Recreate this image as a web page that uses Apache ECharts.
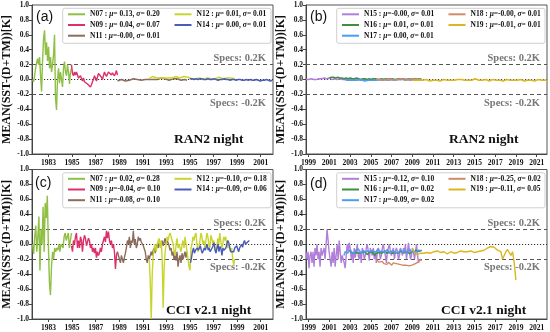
<!DOCTYPE html>
<html><head><meta charset="utf-8">
<script src="https://cdn.jsdelivr.net/npm/echarts@6/dist/echarts.min.js"></script>
<style>html,body{margin:0;padding:0;background:#fff}#c{width:550px;height:332px}</style>
</head><body><div id="c"></div>
<script>
// ================= DATA =================
const ticksAC = [1983,1985,1987,1989,1991,1993,1995,1997,1999,2001];
const ticksBD = [1999,2001,2003,2005,2007,2009,2011,2013,2015,2017,2019,2021];
const rangeAC = [1981.6, 2002.05];
const rangeBD = [1998.75, 2022.0];
const yTicks = [-1.0, 1.0, 0.2]; // min, max, step

const satsAC = ['N07','N09','N11','N12','N14'];
const satsBD = ['N15','N16','N17','N18','N19'];

const muA = ['0.13','0.04','-0.00','0.01','0.00'];
const sdA = ['0.20','0.07','0.01','0.01','0.01'];
const muB = ['-0.00','0.01','0.00','-0.00','-0.01'];
const sdB = ['0.01','0.01','0.01','0.01','0.01'];
const muC = ['0.02','-0.04','-0.08','-0.10','-0.09'];
const sdC = ['0.28','0.10','0.10','0.18','0.06'];
const muD = ['-0.12','-0.11','-0.09','-0.25','-0.11'];
const sdD = ['0.10','0.02','0.02','0.02','0.05'];

// record spans [start, end] in decimal years
const spanA = [[1981.65,1984.95],[1984.95,1988.85],[1988.85,1994.75],[1991.5,1998.8],[1995.0,2002.0]];
const spanC = [[1981.65,1984.95],[1984.95,1988.85],[1988.85,1994.75],[1991.55,1998.8],[1995.05,2000.05]];
const spanB = [[1998.75,2009.8],[2001.0,2009.9],[2002.5,2009.9],[2005.5,2009.9],[2009.0,2022.0]];
const spanD = [[1998.75,2009.8],[2003.0,2009.9],[2002.4,2009.9],[2005.5,2009.9],[2009.0,2019.0]];

// (a) RAN2 night
const a_N07 = [0.0,-0.03,0.05,0.15,0.22,0.28,0.2,0.3,0.05,-0.16,0.25,0.55,0.66,0.33,0.5,0.25,0.44,0.15,0.3,0.1,0.2,0.33,0.6,-0.25,-0.41,0.0,0.15,-0.05,0.1,0.12,-0.1,0.15,0.24,0.1,0.05,0.2,0.1,-0.06,0.1,0.15];
const a_N09 = [0.2,0.08,0.05,0.1,0.06,0.1,0.08,0.02,0.0,0.05,0.03,-0.02,0.02,-0.03,-0.05,-0.02,-0.06,-0.08,-0.05,-0.1,-0.07,-0.03,0.0,0.05,0.02,-0.02,0.03,0.08,0.1,0.07,0.03,0.0,0.05,0.1,0.08,0.04,0.06,0.1,0.08,0.12,0.06,0.09,0.11,0.05,0.08,0.12,0.06];
const a_N11 = [-0.02,-0.01,0.0,-0.01,-0.02,0.0,-0.01,0.0,0.01,-0.01,0.0,0.0,-0.01,0.01,0.0,-0.01,0.0,0.01,0.0,-0.01,0.0,0.01,0.02,0.0,0.01,0.0,-0.01,0.0,0.01,0.0,0.01,0.0,-0.01,0.0,0.0,-0.01];
const a_N12 = [0.01,0.02,0.04,0.03,0.02,0.03,0.02,0.01,0.02,0.03,0.02,0.01,0.02,0.03,0.04,0.03,0.02,0.03,0.04,0.02,0.03,0.02,0.01,0.02,0.01,0.01,0.02,0.01,0.0,0.01,0.02,0.01,0.01,0.02,0.01,0.02,0.03,0.02,0.01,0.02,0.02,0.01,0.02,0.01,0.01];
const a_N14 = [0.01,0.01,0.0,0.01,0.0,0.01,0.01,0.0,0.0,0.01,0.0,0.0,0.01,0.0,-0.01,0.0,0.0,0.01,0.0,0.0,-0.01,0.0,0.0,-0.01,0.0,0.0,-0.01,-0.01,0.0,-0.01,0.0,-0.01,-0.01,0.0,-0.01,-0.02,-0.01,-0.01,0.0,-0.01,-0.02,-0.01];

// (b) RAN2 night
const b_N15 = [0.0,0.0,0.01,0.0,0.0,0.01,0.01,0.02,0.01,0.02,0.0,0.01,0.0,0.01,0.0,0.0,-0.01,0.0,0.0,0.01,0.0,-0.01,0.0,0.0,-0.01,0.0,0.01,0.0,0.0,-0.01,0.0,0.0,0.01,0.0,-0.01,0.0,0.0,0.01,0.0,0.0,-0.01,0.0,0.01,0.0,0.0];
const b_N16 = [0.02,0.03,0.03,0.02,0.03,0.02,0.02,0.01,0.02,0.01,0.02,0.01,0.01,0.02,0.01,0.0,0.01,0.01,0.0,0.01,0.0,0.01,0.01,0.0,0.0,0.01,0.0,0.01,0.0,0.0,0.01,0.0,0.0,0.01,0.0,0.01,0.0,0.0,0.01,0.0,0.0,0.01,0.0,0.01,0.0];
const b_N17 = [0.0,-0.01,-0.01,0.0,-0.01,-0.02,-0.01,-0.01,0.0,-0.01,-0.02,-0.01,-0.01,-0.02,-0.01,0.0,-0.01,-0.01,0.0,-0.01,0.0,0.0,-0.01,0.0,0.0,0.01,0.0,-0.01,0.0,0.0,0.0,-0.01,0.0,0.0,0.01,0.0,0.0,-0.01,0.0,0.0];
const b_N18 = [0.0,0.01,0.0,0.0,-0.01,0.0,0.0,0.01,0.0,0.0,-0.01,0.0,0.0,0.0,0.01,0.0,-0.01,0.0,0.0,0.0,0.01,0.0,0.0,-0.01,0.0,0.0];
const b_N19 = [-0.01,0.0,-0.01,-0.02,-0.01,0.0,-0.01,-0.01,0.0,-0.01,-0.02,-0.01,-0.01,0.0,-0.01,-0.01,-0.02,-0.01,0.0,-0.01,-0.01,0.0,-0.01,-0.02,-0.01,-0.01,0.0,-0.01,0.0,-0.01,-0.01,-0.02,-0.01,0.0,-0.01,0.0,0.01,0.0,-0.01,0.0,-0.01,-0.01,0.0,-0.01,-0.02,-0.01,0.0,-0.01,-0.01,0.0,-0.01,-0.01,-0.02,-0.01,0.0,-0.01,-0.01,0.0,-0.01,-0.02,-0.01,-0.01,0.0,-0.01,-0.02,-0.01,-0.01,0.0,-0.01,-0.01,-0.02,-0.01,0.0,-0.01,-0.01,-0.02,-0.01,-0.01];

// (c) CCI v2.1 night
const c_N07 = [0.0,-0.13,0.1,0.25,-0.1,0.1,0.37,-0.35,0.2,0.0,0.5,-0.1,0.55,0.35,0.65,0.0,-0.5,-0.68,-0.3,-0.1,-0.2,-0.05,-0.1,-0.05,-0.08,0.0,-0.1,0.0,-0.02,-0.05,0.1,0.15,0.05,0.1,0.15,-0.05,0.05,0.15];
const c_N09 = [-0.02,-0.1,0.05,0.0,0.1,0.15,-0.05,0.05,-0.05,0.1,0.05,-0.1,0.05,0.12,0.08,-0.02,0.0,0.08,0.05,-0.05,0.0,-0.1,-0.05,-0.12,-0.05,-0.18,-0.1,-0.15,-0.12,-0.05,-0.1,0.0,0.05,0.1,0.03,0.18,0.08,0.17,0.05,0.0,0.05,-0.05,0.0,-0.1,-0.33,-0.15,-0.1];
const c_N11 = [-0.1,-0.15,-0.2,-0.25,-0.15,-0.2,-0.25,-0.18,-0.12,-0.05,0.05,0.0,0.1,-0.05,0.05,0.02,0.18,0.0,0.07,-0.05,0.0,0.1,0.05,0.08,0.03,0.05,-0.02,0.0,-0.1,-0.2,-0.25,-0.15,-0.2,-0.18,-0.1,-0.15,-0.08,-0.05,-0.12,-0.05,0.0,-0.05,0.02,-0.03,0.0,0.05,-0.02,0.03,0.08,0.0,0.05,0.02,-0.02,-0.08,-0.05,-0.15,-0.1,-0.2,-0.15,-0.22,-0.1,-0.3,-0.2,-0.15,-0.25,-0.12,-0.2,-0.15,-0.1,-0.18,-0.1];
const c_N12 = [-0.2,-0.5,-1.0,-0.4,-0.15,-0.05,0.0,-0.1,0.0,0.05,0.08,-0.05,0.05,-0.2,-0.85,-0.3,-0.1,0.0,0.1,0.05,0.12,0.15,0.1,0.05,0.0,-0.1,-0.15,0.0,0.08,-0.05,0.0,-0.05,-0.1,0.0,0.05,-0.05,0.1,0.0,-0.1,-0.2,-0.3,-0.35,-0.05,0.0,0.1,0.05,0.12,0.15,0.0,-0.1,-0.05,0.05,0.15,0.1,0.0,0.05,-0.05,0.05,0.15,0.1,0.0,-0.05,0.12,0.08,0.0,0.05,-0.05,-0.1,-0.05,0.08,0.0,0.15,0.05,-0.05,0.0,0.1,0.05,0.1,0.0,-0.05,0.0,-0.05,-0.1,-0.05,-0.2,-0.28,-0.2];
const c_N14 = [-0.25,-0.18,-0.1,-0.05,-0.12,-0.08,-0.1,-0.05,-0.08,-0.1,-0.02,-0.08,-0.12,-0.1,-0.05,-0.08,-0.1,0.0,-0.08,-0.05,-0.1,-0.12,-0.05,-0.02,0.02,-0.08,-0.12,-0.05,0.0,-0.1,-0.03,-0.06,-0.15,-0.05,-0.08,-0.1,-0.05,0.0,0.05,0.02,-0.05,-0.1,-0.12,-0.08,-0.1,-0.05,-0.06,-0.02,-0.06,-0.1,-0.05,-0.03,0.0,-0.04,0.02,0.05,0.0,-0.02,0.02,0.04,0.05];

// (d) CCI v2.1 night
const d_N15 = [-0.1,-0.2,-0.1,-0.32,-0.15,-0.1,-0.25,-0.1,-0.3,-0.05,-0.15,0.0,-0.2,-0.1,-0.3,-0.05,-0.15,-0.1,-0.05,-0.2,0.0,0.2,0.05,-0.1,-0.2,-0.3,-0.1,-0.25,-0.05,-0.3,-0.15,0.0,-0.2,0.05,-0.1,-0.25,-0.15,-0.2,-0.25,-0.32,-0.15,0.0,-0.1,0.02,-0.05,-0.2,-0.1,-0.25,-0.05,-0.18,-0.1,0.0,-0.15,-0.2,-0.1,-0.25,-0.05,-0.1,-0.2,-0.15,-0.05,0.0,-0.1,-0.22,-0.05,-0.1,-0.15,-0.05,-0.2,-0.1,-0.25,-0.1,-0.05,-0.1,-0.2,-0.15,-0.05,0.0,-0.1,-0.15,-0.25,-0.1,-0.05,0.0,-0.1,-0.15,-0.1,-0.05,-0.2,-0.1,-0.05,-0.1,-0.2,-0.15,-0.05,-0.1,-0.15,-0.05,-0.1,0.0,-0.2,-0.1,0.02,-0.1,-0.2,-0.15,-0.05,-0.1,-0.2,-0.1,0.0,-0.15,-0.25,-0.2,-0.22];
const d_N16 = [-0.1,-0.11,-0.12,-0.1,-0.11,-0.13,-0.12,-0.1,-0.11,-0.12,-0.1,-0.12,-0.14,-0.11,-0.13,-0.1,-0.12,-0.15,-0.12,-0.1,-0.11,-0.13,-0.12,-0.1,-0.09,-0.12,-0.13,-0.11,-0.1,-0.12,-0.14,-0.11,-0.1,-0.12,-0.11,-0.09,-0.1,-0.12,-0.11,-0.1,-0.12,-0.13,-0.1,-0.09,-0.11,-0.08,-0.07,-0.1,-0.09,-0.08];
const d_N17 = [-0.15,-0.1,-0.08,-0.12,-0.1,-0.07,-0.11,-0.09,-0.12,-0.08,-0.1,-0.06,-0.09,-0.12,-0.1,-0.08,-0.11,-0.13,-0.09,-0.07,-0.1,-0.12,-0.08,-0.1,-0.11,-0.09,-0.06,-0.1,-0.12,-0.09,-0.08,-0.11,-0.1,-0.07,-0.09,-0.12,-0.1,-0.08,-0.1,-0.11,-0.09,-0.12,-0.1,-0.07,-0.09,-0.11,-0.08,-0.1,-0.12,-0.09,-0.06,-0.1,-0.08,-0.11,-0.09,-0.1,-0.12,-0.08,-0.1,-0.09];
const d_N18 = [-0.2,-0.22,-0.24,-0.25,-0.23,-0.26,-0.25,-0.27,-0.24,-0.26,-0.28,-0.25,-0.27,-0.26,-0.28,-0.27,-0.29,-0.28,-0.3,-0.28,-0.27,-0.29,-0.3,-0.28,-0.27,-0.26,-0.25,-0.24,-0.2,-0.22];
const d_N19 = [-0.05,-0.1,-0.12,-0.14,-0.15,-0.12,-0.1,-0.12,-0.13,-0.11,-0.1,-0.12,-0.12,-0.1,-0.1,-0.09,-0.08,-0.11,-0.12,-0.1,-0.1,-0.13,-0.12,-0.1,-0.1,-0.12,-0.13,-0.11,-0.1,-0.09,-0.08,-0.1,-0.12,-0.1,-0.08,-0.09,-0.1,-0.11,-0.12,-0.1,-0.08,-0.09,-0.1,-0.08,-0.06,-0.05,-0.05,-0.03,-0.02,-0.04,-0.05,-0.08,-0.06,-0.1,-0.2,-0.22,-0.1,-0.07,-0.05,-0.15,-0.1,-0.25,-0.48];

const colorsAC = ['#8fbf45','#dc3068','#8c6c5c','#c9d52e','#4a5cb8'];
const colorsBD = ['#b07fd8','#3f8f3f','#4c9cf2','#d08a68','#ddb520'];

const tags = ['(a)','(b)','(c)','(d)'];
const products = ['RAN2 night','RAN2 night','CCI v2.1 night','CCI v2.1 night'];
const yName = 'MEAN(SST-(D+TM))[K]';

// ================= LAYOUT / BUILD =================
const SERIF = '"Liberation Serif","Times New Roman",serif';
const SANS = '"Liberation Sans",Arial,sans-serif';
const grids = [
  {left:32, top:5, width:241, height:149},
  {left:306, top:5, width:241, height:149},
  {left:32, top:169.5, width:241, height:149.5},
  {left:306, top:169.5, width:241, height:149.5}
];
const panels = [
  {sats:satsAC, mu:muA, sd:sdA, spans:spanA, vals:[a_N07,a_N09,a_N11,a_N12,a_N14], colors:colorsAC, ticks:ticksAC, range:rangeAC},
  {sats:satsBD, mu:muB, sd:sdB, spans:spanB, vals:[b_N15,b_N16,b_N17,b_N18,b_N19], colors:colorsBD, ticks:ticksBD, range:rangeBD},
  {sats:satsAC, mu:muC, sd:sdC, spans:spanC, vals:[c_N07,c_N09,c_N11,c_N12,c_N14], colors:colorsAC, ticks:ticksAC, range:rangeAC},
  {sats:satsBD, mu:muD, sd:sdD, spans:spanD, vals:[d_N15,d_N16,d_N17,d_N18,d_N19], colors:colorsBD, ticks:ticksBD, range:rangeBD}
];
const pad = s => (s[0] === '-' ? s : ' ' + s);

const option = {
  animation:false, backgroundColor:'#fff',
  grid: grids.map(g => Object.assign({show:true, borderColor:'#555', borderWidth:1, backgroundColor:'transparent'}, g)),
  xAxis:[], yAxis:[], series:[], legend:[], graphic:[]
};

const axisFont = {fontFamily:SERIF, fontWeight:'bold', fontSize:7.5, color:'#111'};
const specLabel = {show:true, color:'#777', fontFamily:SERIF, fontWeight:'bold', fontSize:10.5};

panels.forEach((P, p) => {
  const g = grids[p];
  option.xAxis.push({
    type:'value', gridIndex:p, min:P.range[0], max:P.range[1],
    axisLine:{show:true, onZero:false, lineStyle:{color:'#444'}},
    axisTick:{show:true, length:3, customValues:P.ticks, lineStyle:{color:'#444'}},
    axisLabel:Object.assign({customValues:P.ticks, margin:5, formatter:v => String(Math.round(v))}, axisFont),
    splitLine:{show:false}
  });
  option.yAxis.push({
    type:'value', gridIndex:p, min:yTicks[0], max:yTicks[1], interval:yTicks[2],
    name:yName, nameLocation:'middle', nameGap:17,
    nameTextStyle:{fontFamily:SERIF, fontWeight:'bold', fontSize:12, color:'#111'},
    axisLine:{show:true, onZero:false, lineStyle:{color:'#444'}},
    axisTick:{show:true, length:3, lineStyle:{color:'#444'}},
    axisLabel:Object.assign({margin:3, formatter:v => (Math.abs(v) < 1e-9 ? 0 : v).toFixed(1)}, axisFont),
    splitLine:{show:false}
  });
  const names = [];
  P.sats.forEach((s, k) => {
    const name = s + ' : μ=' + pad(P.mu[k]) + ', σ=' + pad(P.sd[k]);
    names.push(name);
    const v = P.vals[k], sp = P.spans[k];
    const step = (sp[1] - sp[0]) / (v.length - 1);
    const data = v.map((y, i) => [sp[0] + i * step, y]);
    const ser = {
      type:'line', name, xAxisIndex:p, yAxisIndex:p, data,
      symbol:'none', showSymbol:false, color:P.colors[k],
      lineStyle:{width:1.4, color:P.colors[k]}, itemStyle:{color:P.colors[k]},
      emphasis:{disabled:true}, z:2 + k
    };
    if (k === 0) {
      ser.markLine = {
        silent:true, symbol:'none', animation:false, z:1,
        data:[
          {yAxis:0.2, lineStyle:{type:[4,3], color:'#555', width:1},
           label:Object.assign({position:'insideEndTop', formatter:'Specs: 0.2K', distance:[7,1]}, specLabel)},
          {yAxis:-0.2, lineStyle:{type:[4,3], color:'#555', width:1},
           label:Object.assign({position:'insideEndBottom', formatter:'Specs: -0.2K', distance:[7,3]}, specLabel)},
          {yAxis:0, lineStyle:{type:[1.2,1.8], color:'#333', width:1}, label:{show:false}}
        ]
      };
    }
    option.series.push(ser);
  });
  const legendBase = {
    orient:'vertical', padding:0, itemWidth:17, itemHeight:9, itemGap:1.7, z:10,
    selectedMode:false, lineStyle:{width:2}, itemStyle:{opacity:0, borderWidth:0},
    textStyle:{fontFamily:SERIF, fontWeight:'bold', fontSize:7.5, lineHeight:9, color:'#111',
      rich:{i:{fontFamily:SERIF, fontWeight:'bold', fontStyle:'italic', fontSize:7.5, lineHeight:9, color:'#111'}}},
    formatter:n => n.replace('μ', '{i|μ}').replace('σ', '{i|σ}')
  };
  option.legend.push(Object.assign({}, legendBase, {data:names.slice(0,3), left:g.left + 35, top:g.top + 4.8}));
  option.legend.push(Object.assign({}, legendBase, {data:names.slice(3), left:g.left + 141.5, top:g.top + 4.8}));
  option.graphic.push({
    type:'rect', z:3, silent:true,
    shape:{x:g.left + 30.7, y:g.top + 3.3, width:g.width - 32.7, height:35, r:2},
    style:{fill:'rgba(255,255,255,0.85)', stroke:'#cfcfcf', lineWidth:1}
  });
});

const tagPos = [[36,10],[310,10],[35,176],[310,177]];
const prodPos = [[174,133],[449,133],[166,304],[441,304]];
tags.forEach((t, i) => {
  option.graphic.push({type:'text', z:12, silent:true, left:tagPos[i][0], top:tagPos[i][1],
    style:{text:t, font:'14px ' + SANS, fill:'#111'}});
  option.graphic.push({type:'text', z:12, silent:true, left:prodPos[i][0], top:prodPos[i][1],
    style:{text:products[i], font:'bold 13.5px ' + SERIF, fill:'#111'}});
});

const chart = echarts.init(document.getElementById('c'), null, {renderer:'canvas'});
chart.setOption(option);
</script>
</body></html>
